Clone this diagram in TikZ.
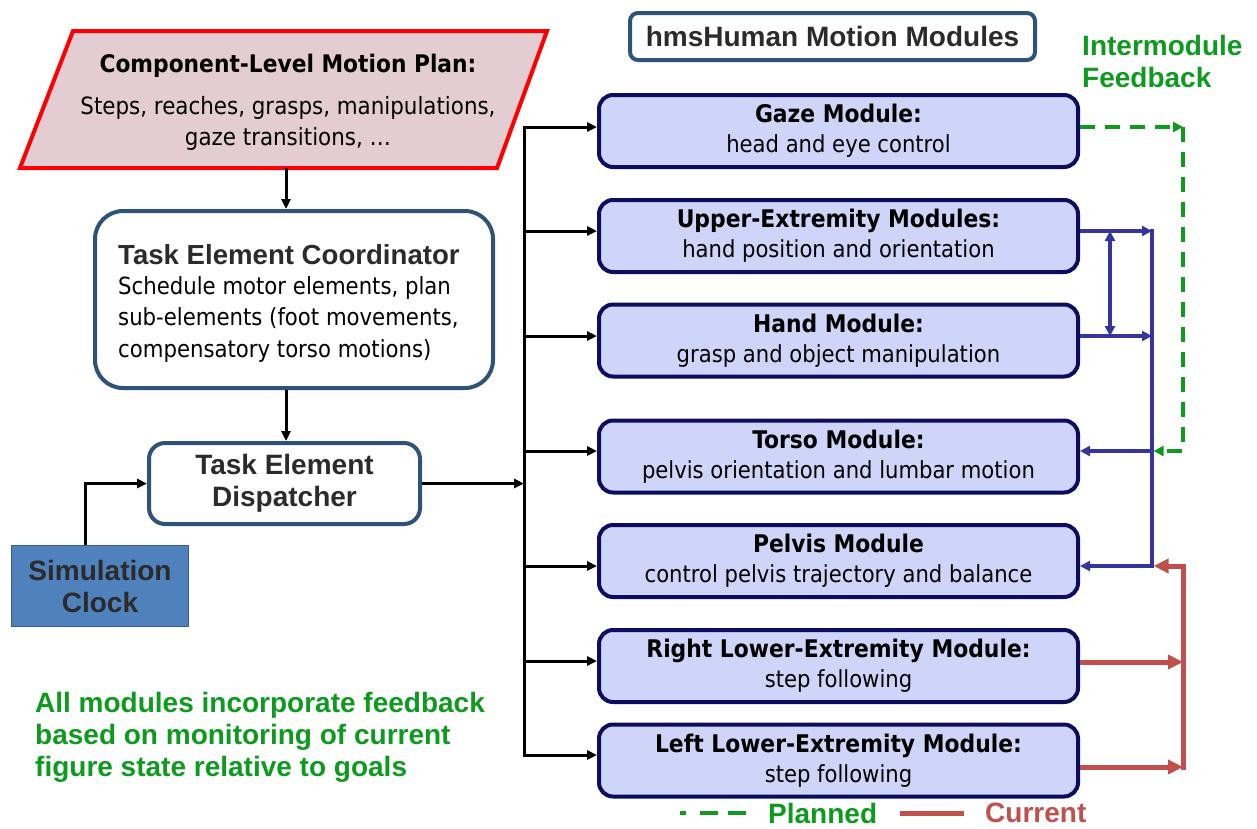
\documentclass[tikz,border=0pt]{standalone}
\usepackage{fontspec}
\setmainfont{DejaVu Sans Condensed}
\newfontfamily\arialfnt{Liberation Sans}
\usetikzlibrary{arrows.meta}

\definecolor{planfill}{HTML}{E4CCD3}
\definecolor{planline}{HTML}{FF0000}
\definecolor{navy}{HTML}{0D0D5F}
\definecolor{modfill}{HTML}{CFD5F9}
\definecolor{steel}{HTML}{2F5279}
\definecolor{clockfill}{HTML}{4F81BD}
\definecolor{clockline}{HTML}{3B5E88}
\definecolor{fbgreen}{HTML}{0E9A1E}
\definecolor{fbblue}{HTML}{35359A}
\definecolor{fbred}{HTML}{C0504D}
\definecolor{headgray}{HTML}{2B2B2B}

% module body text and module titles
\newcommand\mfnt{\fontsize{23.5}{30}\selectfont}
\newcommand\mtitle[1]{{\bfseries\fontsize{24.3}{30}\selectfont #1}}
% bold sans headings
\newcommand\hfnt{\arialfnt\bfseries\fontsize{28}{32}\selectfont}

\begin{document}
\begin{tikzpicture}[x=1pt,y=-1pt,
  module/.style={draw=navy, line width=4pt, fill=modfill, rounded corners=14pt,
    minimum width=479pt, minimum height=72pt, inner sep=0pt, align=center, font=\mfnt},
  feed/.style={line width=3pt, -{Triangle[length=10pt,width=9pt]}},
  bluefb/.style={draw=fbblue, line width=3.2pt},
  bluearr/.style={bluefb, -{Triangle[length=10pt,width=10pt]}},
  redfb/.style={draw=fbred, line width=5pt},
  redarr/.style={redfb, -{Triangle[length=15pt,width=14pt]}},
  greenfb/.style={draw=fbgreen, line width=3.5pt, dash pattern=on 15pt off 10pt},
  greenarr/.style={greenfb, -{Triangle[length=10pt,width=10pt]}},
  greentext/.style={text=fbgreen, font=\hfnt, align=left, inner sep=0pt}]
\useasboundingbox (0,0) rectangle (1257,828);

% ---------- left column ----------
\draw[draw=planline, fill=planfill, line width=4pt]
  (73,31) -- (547,31) -- (497,168) -- (20,168) -- cycle;
\coordinate (planbot) at (286,168);
\node[font={\bfseries\fontsize{24.2}{28}\selectfont}, inner sep=0pt] (plantitle) at (288,66) {Component-Level Motion Plan:};
\node[font={\fontsize{23.8}{31}\selectfont}, align=center, inner sep=0pt] (plantext) at (288,123)
  {Steps, reaches, grasps, manipulations,\\ gaze transitions, \dots};

\node[draw=steel, line width=4pt, fill=white, rounded corners=28pt,
  minimum width=398pt, minimum height=177pt] (tec) at (294,299.5) {};
\node[anchor=west, inner sep=0pt, text=headgray, font=\arialfnt\bfseries\fontsize{27.6}{32}\selectfont]
  (tectitle) at (118,255) {Task Element Coordinator};
\node[anchor=west, inner sep=0pt, align=left, font={\fontsize{23.6}{31.5}\selectfont}]
  (tectext) at (118,319) {Schedule motor elements, plan\\ sub-elements (foot movements,\\ compensatory torso motions)};

\node[draw=steel, line width=4pt, fill=white, rounded corners=16pt,
  minimum width=271pt, minimum height=81pt, align=center, text=headgray,
  font=\hfnt] (disp) at (284.5,483.5) {Task Element\\ Dispatcher};

\node[draw=clockline, line width=1pt, fill=clockfill, minimum width=177pt, minimum height=81pt,
  align=center, text=headgray, font=\hfnt] (clock) at (100,586) {Simulation\\ Clock};

\draw[feed] (planbot) -- (planbot |- tec.north);
\draw[feed] (planbot |- tec.south) -- (planbot |- disp.north);
\draw[feed] ([xshift=-15pt]clock.north) |- (disp.west);

% ---------- module column ----------
\node[draw=steel, line width=4pt, fill=white, rounded corners=8pt, minimum width=405pt,
  minimum height=47pt, text=headgray, font=\hfnt] (head) at (832.5,36.5)
  {hmsHuman Motion Modules};

\node[module] (gaze)  at (838.5,131)   {\mtitle{Gaze Module:}\\ head and eye control};
\node[module] (upper) at (838.5,236)   {\mtitle{Upper-Extremity Modules:}\\ hand position and orientation};
\node[module] (hand)  at (838.5,340.5) {\mtitle{Hand Module:}\\ grasp and object manipulation};
\node[module] (torso) at (838.5,456.5) {\mtitle{Torso Module:}\\ pelvis orientation and lumbar motion};
\node[module] (pelvis) at (838.5,561)  {\mtitle{Pelvis Module}\\ control pelvis trajectory and balance};
\node[module] (rle)   at (838.5,666)   {\mtitle{Right Lower-Extremity Module:}\\ step following};
\node[module] (lle)   at (838.5,760.5) {\mtitle{Left Lower-Extremity Module:}\\ step following};

% dispatch bus
\coordinate (b1) at (524,127);
\coordinate (b2) at (524,231);
\coordinate (b3) at (524,336);
\coordinate (b4) at (524,451);
\coordinate (b5) at (524,566);
\coordinate (b6) at (524,661);
\coordinate (b7) at (524,755);
\draw[line width=3pt] ([yshift=1.5pt]b1) -- ([yshift=-1.5pt]b7);
\draw[feed] (disp.east) -- (disp.east -| b1);
\foreach \b/\m in {b1/gaze, b2/upper, b3/hand, b4/torso, b5/pelvis, b6/rle, b7/lle}
  \draw[feed] (\b) -- (\b -| \m.west);

% intermodule feedback
\coordinate (gc) at (1183,127);
\coordinate (bu) at (1152,231);
\coordinate (bh) at (1152,336);
\coordinate (bt) at (1152,451);
\coordinate (bp) at (1152,566);
\coordinate (du) at (1110,231);
\coordinate (dh) at (1110,336);
\coordinate (rt) at (1183,566);
\coordinate (rr) at (1183,662);
\coordinate (rl) at (1183,767);

\draw[bluearr] (bu -| upper.east) -- (bu);
\draw[bluearr] (bh -| hand.east) -- (bh);
\draw[bluefb] ([yshift=1.6pt]bu) -- ([yshift=-1.6pt]bp);
\draw[bluearr] (bt) -- (bt -| torso.east);
\draw[bluearr] (bp) -- (bp -| pelvis.east);
\draw[bluefb, {Triangle[length=10pt,width=10pt]}-{Triangle[length=10pt,width=10pt]}] (du) -- (dh);

\draw[greenarr] (gc -| gaze.east) -- (gc);
\draw[greenarr] (gc) |- ([xshift=1.6pt]bt);

\draw[redarr] (rr -| rle.east) -- (rr);
\draw[redarr] (rl -| lle.east) -- (rl);
\draw[redfb] ([yshift=-2.5pt]rl) -- ([yshift=2.5pt]rt);
\draw[redarr] ([xshift=2.5pt]rt) -- ([xshift=1.6pt]bp);

% labels
\node[greentext, anchor=west] (imf) at (1082,61) {Intermodule\\ Feedback};
\node[greentext, anchor=west] (note) at (35,737)
  {All modules incorporate feedback\\ based on monitoring of current\\ figure state relative to goals};

% legend
\coordinate (lg1) at (680,813);
\coordinate (lg2) at (746,813);
\coordinate (lr1) at (900,813);
\coordinate (lr2) at (964,813);
\draw[greenfb, dash pattern=on 6pt off 14pt on 18pt off 10pt on 18pt] (lg1) -- (lg2);
\node[greentext, anchor=west] (planned) at (768,813) {Planned};
\draw[redfb] (lr1) -- (lr2);
\node[greentext, text=fbred, anchor=west] (current) at (985,813) {Current};
\end{tikzpicture}
\end{document}
